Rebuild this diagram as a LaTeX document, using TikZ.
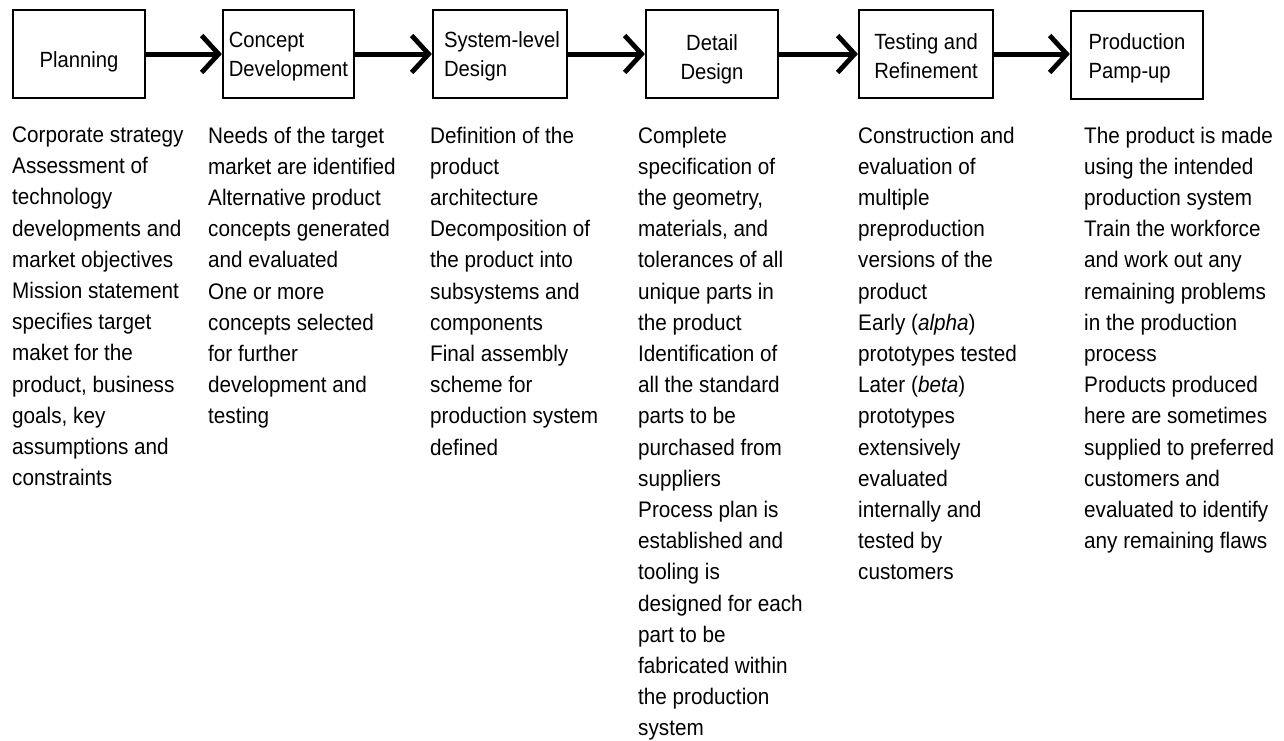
\documentclass[tikz,border=0pt]{standalone}
\usepackage{fontspec}
\setmainfont{Liberation Sans}[FakeStretch=0.92]
\usetikzlibrary{arrows.meta}
\begin{document}
\begin{tikzpicture}[x=1pt,y=-1pt,
  stage/.style={draw=black, line width=2.2pt, minimum width=132pt, minimum height=88pt,
    inner sep=0pt},
  stagetext/.style={inner sep=0pt, align=left, font=\fontsize{22}{29}\selectfont},
  flow/.style={draw=black, line width=5pt,
    -{Straight Barb[length=17pt, width=37pt, line width=4.8pt]}},
  notes/.style={anchor=north west, inner sep=0pt, align=left,
    font=\fontsize{22.5}{31.2}\selectfont}]
  \useasboundingbox (0,0) rectangle (1284,740);

  % stage boxes
  \node[stage] (p1) at (79,54) {};
  \node[stage, minimum width=131pt] (p2) at (288.5,54) {};
  \node[stage, minimum width=134pt] (p3) at (500,54) {};
  \node[stage] (p4) at (712,54) {};
  \node[stage, minimum width=134pt] (p5) at (926,54) {};
  \node[stage] (p6) at (1137,55) {};

  % stage names
  \node[stagetext] (t1) at (79,62) {Planning};
  \node[stagetext] (t2) at (288.5,56.5) {Concept\\Development};
  \node[stagetext] (t3) at (502,56.5) {System-level\\Design};
  \node[stagetext, align=center] (t4) at (712,59) {Detail\\Design};
  \node[stagetext] (t5) at (926,56.5) {Testing and\\Refinement};
  \node[stagetext] (t6) at (1137,58) {Production\\Pamp-up};

  % flow between stages
  \draw[flow] (p1) -- (p2);
  \draw[flow] (p2) -- (p3);
  \draw[flow] (p3) -- (p4);
  \draw[flow] (p4) -- (p5);
  \draw[flow] (p5.east) -- (p5.east -| p6.west);

  % activity lists under each stage
  \node[notes] (n1) at (12,126.6) {Corporate strategy\\Assessment of\\technology\\developments and\\market objectives\\Mission statement\\specifies target\\maket for the\\product, business\\goals, key\\assumptions and\\constraints};
  \node[notes] (n2) at (208,126.6) {Needs of the target\\market are identified\\Alternative product\\concepts generated\\and evaluated\\One or more\\concepts selected\\for further\\development and\\testing};
  \node[notes] (n3) at (430,126.6) {Definition of the\\product\\architecture\\Decomposition of\\the product into\\subsystems and\\components\\Final assembly\\scheme for\\production system\\defined};
  \node[notes] (n4) at (638,126.6) {Complete\\specification of\\the geometry,\\materials, and\\tolerances of all\\unique parts in\\the product\\Identification of\\all the standard\\parts to be\\purchased from\\suppliers\\Process plan is\\established and\\tooling is\\designed for each\\part to be\\fabricated within\\the production\\system};
  \node[notes] (n5) at (858,126.6) {Construction and\\evaluation of\\multiple\\preproduction\\versions of the\\product\\Early (\textit{alpha})\\prototypes tested\\Later (\textit{beta})\\prototypes\\extensively\\evaluated\\internally and\\tested by\\customers};
  \node[notes] (n6) at (1084,126.6) {The product is made\\using the intended\\production system\\Train the workforce\\and work out any\\remaining problems\\in the production\\process\\Products produced\\here are sometimes\\supplied to preferred\\customers and\\evaluated to identify\\any remaining flaws};
\end{tikzpicture}
\end{document}
